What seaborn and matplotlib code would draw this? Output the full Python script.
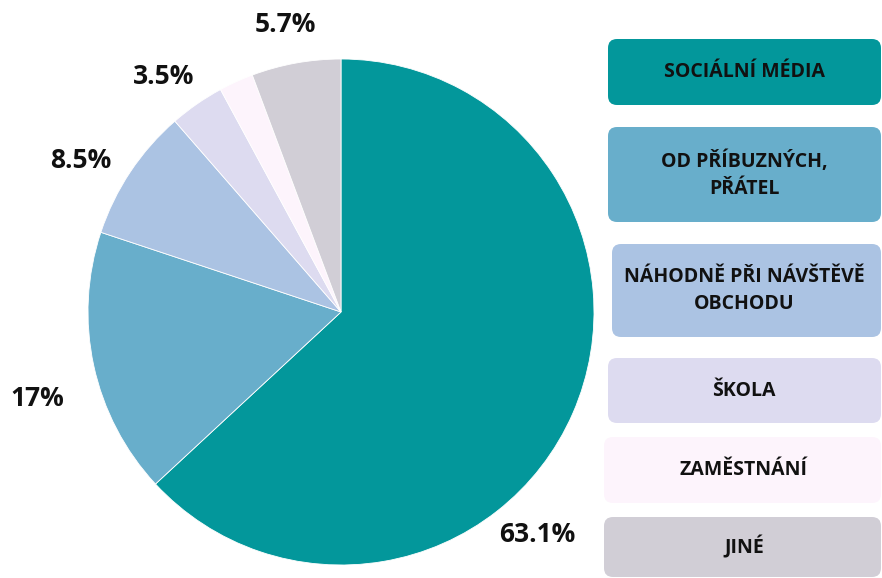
import matplotlib
matplotlib.use("Agg")
import matplotlib.pyplot as plt
import seaborn as sns
from matplotlib.patches import FancyBboxPatch

# =========================
# DATA
# =========================
categories = ["SOCIÁLNÍ MÉDIA", "OD PŘÍBUZNÝCH,\nPŘÁTEL", "NÁHODNĚ PŘI NÁVŠTĚVĚ\nOBCHODU",
              "ŠKOLA", "ZAMĚSTNÁNÍ", "JINÉ"]
shares = [63.1, 17.0, 8.5, 3.5, 2.2, 5.7]
pct_labels = ["63.1%", "17%", "8.5%", "3.5%", "", "5.7%"]
colors = ["#03979b", "#68aecb", "#abc3e3", "#dddbf0", "#fdf4fc", "#d1ced6"]

# =========================
# STYLE
# =========================
sns.set_theme(style="white")
plt.rcParams["font.family"] = ["Open Sans", "DejaVu Sans"]
palette = sns.color_palette(colors)

W, H = 882, 578
fig = plt.figure(figsize=(W / 100, H / 100), dpi=100)
ax = fig.add_axes([0, 0, 1, 1])

# pie in pixel-like coordinates (y up)
wedges, _ = ax.pie(shares, colors=palette, startangle=90, counterclock=False,
                   center=(341, H - 312), radius=253,
                   wedgeprops=dict(edgecolor="white", linewidth=0.6))

# percentage labels
label_pos = [(537, 535), (37, 398), (81, 160), (164, 77), None, (285, 25)]
for txt, pos in zip(pct_labels, label_pos):
    if pos is None or not txt:
        continue
    ax.text(pos[0], H - pos[1], txt, ha="center", va="center",
            fontsize=19, fontweight="bold", color="#111111")

# legend boxes on the right
boxes = [(608, 39, 105), (608, 127, 222), (612, 244, 337),
         (608, 358, 423), (604, 437, 503), (604, 517, 577)]
for (x0, top, bot), name, col in zip(boxes, categories, palette):
    patch = FancyBboxPatch((x0, H - bot), 881 - x0, bot - top,
                           boxstyle="round,pad=0,rounding_size=9",
                           facecolor=col, edgecolor="none")
    ax.add_patch(patch)
    ax.text(744, H - (top + bot) / 2, name, ha="center", va="center",
            fontsize=14, fontweight="bold", color="#111111", linespacing=1.5)

ax.set_xlim(0, W)
ax.set_ylim(0, H)
ax.set_aspect("equal")
ax.axis("off")

plt.savefig("out.png", dpi=100)
plt.close()
